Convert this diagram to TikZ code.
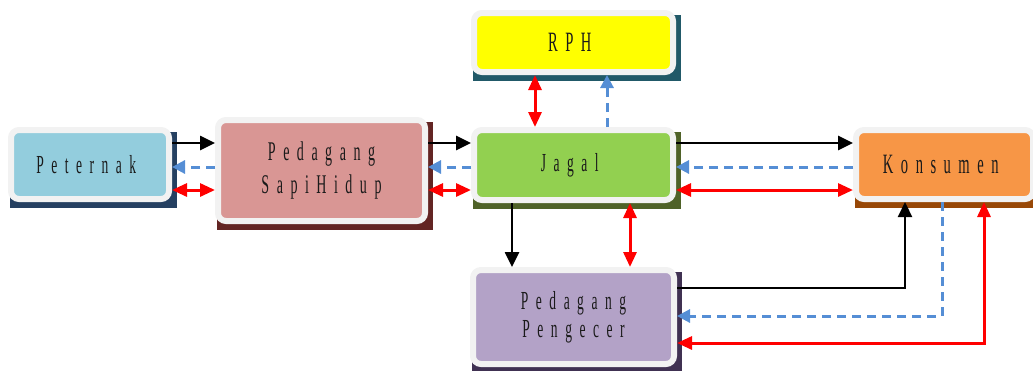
\documentclass[tikz,border=0pt]{standalone}
\usepackage{fontspec}
\newfontfamily\boxfont[FakeStretch=0.52]{Liberation Serif}
\usetikzlibrary{arrows.meta}
\pgfdeclarelayer{background}
\pgfsetlayers{background,main}

\definecolor{framegray}{HTML}{F2F2F2}
\definecolor{petfill}{HTML}{93CDDD}
\definecolor{petdark}{HTML}{254061}
\definecolor{pshfill}{HTML}{D99694}
\definecolor{pshdark}{HTML}{632523}
\definecolor{rphfill}{HTML}{FFFF00}
\definecolor{rphdark}{HTML}{215968}
\definecolor{jagfill}{HTML}{92D050}
\definecolor{jagdark}{HTML}{4F6228}
\definecolor{konfill}{HTML}{F79646}
\definecolor{kondark}{HTML}{984807}
\definecolor{penfill}{HTML}{B3A2C7}
\definecolor{pendark}{HTML}{403152}
\definecolor{flowblue}{HTML}{558ED5}
\definecolor{flowred}{HTML}{FF0000}
\definecolor{labelink}{HTML}{1A1A1A}

% letter-spaced label text
\newlength\lsgap
\setlength\lsgap{7.5pt}
\def\spacedtext#1{\spacedloop#1\relax}
\def\spacedloop#1{\ifx#1\relax\else#1\hskip\lsgap\expandafter\spacedloop\fi}

% sharp dark block behind a framed box
\newcommand\backblock[2]{%
  \fill[#2] ([shift={(1.5,5)}]#1.north west) rectangle ([shift={(4.5,5.5)}]#1.south east);}

\begin{document}
\begin{tikzpicture}[x=1pt,y=-1pt,
  box/.style={draw=framegray, line width=6pt, rounded corners=8pt,
    inner sep=0pt, align=center, text=labelink},
  txt/.style={font=\boxfont\fontsize{#1}{28pt}\selectfont},
  goods/.style={draw=black, line width=2.6pt, -{Triangle[length=15pt,width=14pt]}},
  info/.style={draw=flowblue, line width=3pt, dash pattern=on 9pt off 6pt,
    -{Triangle[length=13pt,width=13pt]}},
  money/.style={draw=flowred, line width=3pt,
    {Triangle[length=15pt,width=13pt]}-{Triangle[length=15pt,width=13pt]}}]
\useasboundingbox (0,0) rectangle (1033,370);

% boxes
\node[box, txt=26pt, fill=petfill, minimum width=158pt, minimum height=69pt]
  (pet) at (90,164.5) {\spacedtext{Peternak}};
\node[box, txt=27pt, fill=pshfill, minimum width=207pt, minimum height=101pt]
  (psh) at (321.5,170.5) {\spacedtext{Pedagang}\\[5pt]\spacedtext{SapiHidup}};
\node[box, txt=28pt, fill=rphfill, minimum width=199pt, minimum height=59pt]
  (rph) at (573.5,42.5) {\spacedtext{RPH}};
\node[box, txt=26pt, fill=jagfill, minimum width=199pt, minimum height=70pt]
  (jag) at (573.5,165) {\spacedtext{Jagal}};
\node[box, txt=28pt, fill=konfill, minimum width=177pt, minimum height=69pt]
  (kon) at (944.5,164.5) {\spacedtext{Konsumen}};
\node[box, txt=26pt, fill=penfill, minimum width=201pt, minimum height=94pt]
  (pen) at (573.5,317) {\spacedtext{Pedagang}\\\spacedtext{Pengecer}};

\begin{pgfonlayer}{background}
  \backblock{pet}{petdark}
  \backblock{psh}{pshdark}
  \backblock{rph}{rphdark}
  \backblock{jag}{jagdark}
  \backblock{kon}{kondark}
  \backblock{pen}{pendark}
\end{pgfonlayer}

% flow levels
\coordinate (yA) at (0,143);
\coordinate (yB) at (0,167);
\coordinate (yC) at (0,190);
\coordinate (yD) at (0,288);
\coordinate (yE) at (0,316);
\coordinate (yF) at (0,343);
\coordinate (xR1) at (535,0);
\coordinate (xR2) at (607,0);
\coordinate (xP1) at (512,0);
\coordinate (xP2) at (630,0);
\coordinate (xK1) at (905,0);
\coordinate (xK2) at (942,0);
\coordinate (xK3) at (984,0);

% Peternak -- Pedagang Sapi Hidup
\draw[goods] (pet.east |- yA) -- (psh.west |- yA);
\draw[info]  (psh.west |- yB) -- (pet.east |- yB);
\draw[money] (pet.east |- yC) -- (psh.west |- yC);

% Pedagang Sapi Hidup -- Jagal
\draw[goods] (psh.east |- yA) -- (jag.west |- yA);
\draw[info]  (jag.west |- yB) -- (psh.east |- yB);
\draw[money] (psh.east |- yC) -- (jag.west |- yC);

% Jagal -- RPH
\draw[money] (rph.south -| xR1) -- (jag.north -| xR1);
\draw[info]  (jag.north -| xR2) -- (rph.south -| xR2);

% Jagal -- Konsumen
\draw[goods] (jag.east |- yA) -- (kon.west |- yA);
\draw[info]  (kon.west |- yB) -- (jag.east |- yB);
\draw[money] (jag.east |- yC) -- (kon.west |- yC);

% Jagal -- Pedagang Pengecer
\draw[goods] (jag.south -| xP1) -- (pen.north -| xP1);
\draw[money] (jag.south -| xP2) -- (pen.north -| xP2);

% Pedagang Pengecer -- Konsumen
\draw[goods, line width=2.2pt] (pen.east |- yD) -| (kon.south -| xK1);
\draw[info]  (kon.south -| xK2) |- (pen.east |- yE);
\draw[money] (kon.south -| xK3) |- (pen.east |- yF);
\end{tikzpicture}
\end{document}
